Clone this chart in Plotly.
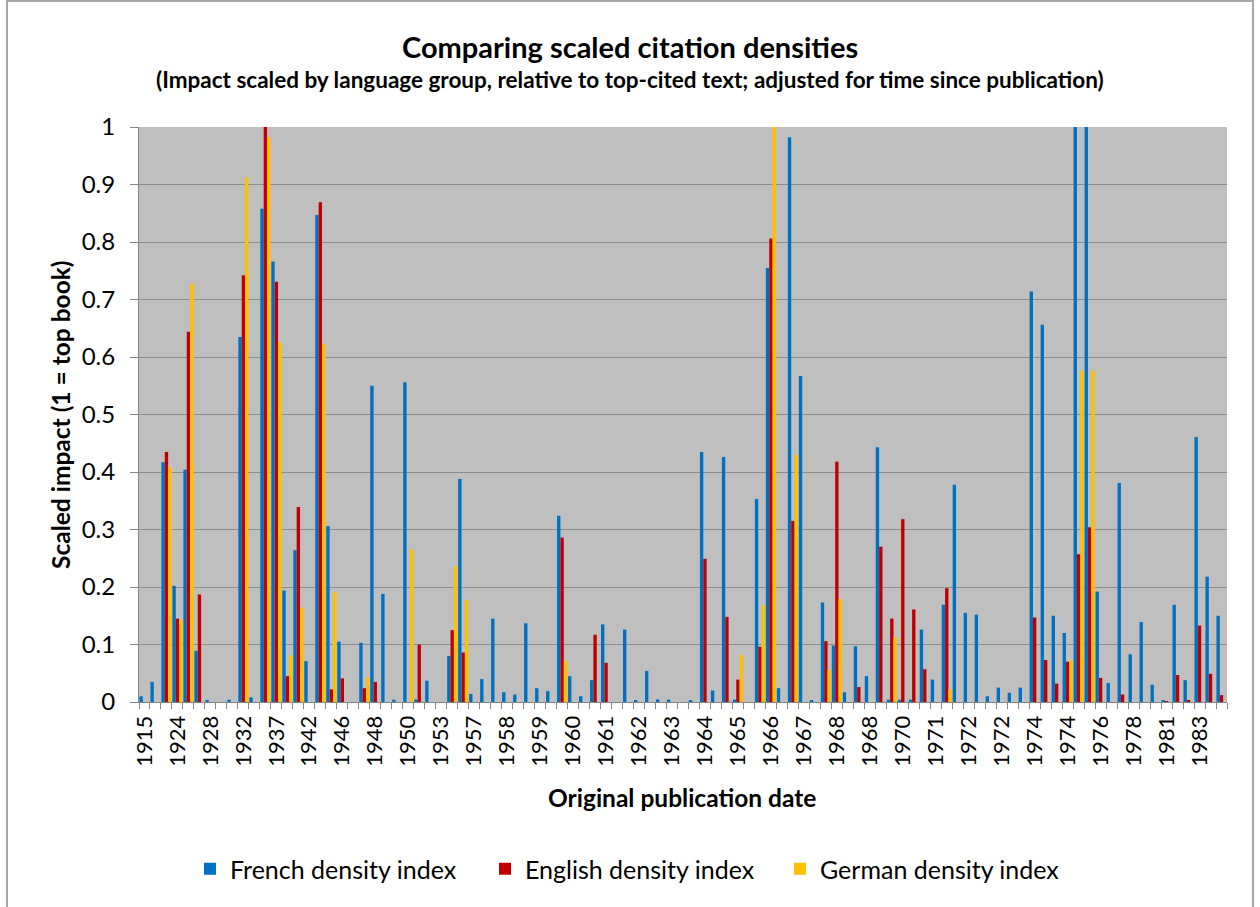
import plotly.graph_objects as go

# ---------------- data ----------------
years = [1915, 1920, 1922, 1924, 1925, 1927, 1928, 1929, 1931, 1932, 1934, 1936,
         1937, 1939, 1940, 1942, 1943, 1945, 1946, 1947, 1947, 1948, 1949, 1949,
         1950, 1951, 1952, 1953, 1955, 1956, 1957, 1957, 1958, 1958, 1958, 1959,
         1959, 1959, 1960, 1960, 1960, 1961, 1961, 1961, 1962, 1962, 1962, 1963,
         1963, 1963, 1964, 1964, 1964, 1965, 1965, 1965, 1966, 1966, 1966, 1967,
         1967, 1967, 1968, 1968, 1968, 1968, 1968, 1969, 1969, 1970, 1970, 1971,
         1971, 1971, 1972, 1972, 1972, 1972, 1972, 1973, 1973, 1974, 1974, 1974,
         1974, 1975, 1975, 1976, 1977, 1977, 1978, 1979, 1980, 1981, 1982, 1982,
         1983, 1984, 1985]

french = [0.010, 0.035, 0.417, 0.202, 0.404, 0.089, 0.002, 0.000, 0.004, 0.635,
          0.008, 0.858, 0.766, 0.194, 0.264, 0.071, 0.847, 0.306, 0.105, 0.000,
          0.103, 0.550, 0.188, 0.004, 0.556, 0.0045, 0.037, 0.000, 0.080, 0.388,
          0.014, 0.040, 0.145, 0.017, 0.013, 0.137, 0.024, 0.019, 0.324, 0.045,
          0.010, 0.038, 0.135, 0.000, 0.126, 0.002, 0.054, 0.0045, 0.004, 0.000,
          0.002, 0.435, 0.020, 0.426, 0.004, 0.000, 0.353, 0.755, 0.024, 0.982,
          0.567, 0.002, 0.173, 0.098, 0.017, 0.097, 0.045, 0.443, 0.004, 0.004,
          0.004, 0.126, 0.039, 0.169, 0.378, 0.155, 0.152, 0.010, 0.025, 0.016,
          0.025, 0.714, 0.656, 0.150, 0.120, 1.000, 1.000, 0.192, 0.033, 0.381,
          0.083, 0.139, 0.030, 0.002, 0.169, 0.038, 0.461, 0.218, 0.150]

english = [0.000, 0.000, 0.435, 0.145, 0.644, 0.187, 0.000, 0.000, 0.000, 0.742,
           0.000, 1.000, 0.731, 0.045, 0.339, 0.000, 0.869, 0.022, 0.041, 0.000,
           0.024, 0.035, 0.000, 0.000, 0.000, 0.100, 0.000, 0.000, 0.125, 0.086,
           0.000, 0.000, 0.000, 0.000, 0.000, 0.000, 0.000, 0.000, 0.286, 0.000,
           0.000, 0.117, 0.068, 0.000, 0.000, 0.000, 0.000, 0.000, 0.000, 0.000,
           0.000, 0.249, 0.000, 0.148, 0.039, 0.000, 0.096, 0.806, 0.000, 0.315,
           0.000, 0.000, 0.106, 0.418, 0.000, 0.026, 0.000, 0.270, 0.145, 0.318,
           0.161, 0.057, 0.000, 0.198, 0.000, 0.000, 0.000, 0.000, 0.000, 0.000,
           0.000, 0.147, 0.073, 0.032, 0.070, 0.257, 0.304, 0.042, 0.000, 0.013,
           0.000, 0.000, 0.000, 0.001, 0.047, 0.002, 0.133, 0.049, 0.012]

german = [0.000, 0.000, 0.408, 0.144, 0.728, 0.000, 0.000, 0.000, 0.000, 0.912,
          0.000, 0.982, 0.626, 0.081, 0.164, 0.000, 0.623, 0.191, 0.000, 0.000,
          0.042, 0.000, 0.000, 0.000, 0.265, 0.000, 0.000, 0.000, 0.236, 0.177,
          0.000, 0.000, 0.000, 0.000, 0.000, 0.000, 0.000, 0.000, 0.071, 0.000,
          0.000, 0.000, 0.000, 0.000, 0.000, 0.000, 0.000, 0.000, 0.000, 0.000,
          0.000, 0.000, 0.000, 0.000, 0.082, 0.000, 0.168, 1.000, 0.000, 0.430,
          0.000, 0.000, 0.056, 0.179, 0.000, 0.000, 0.000, 0.000, 0.113, 0.000,
          0.000, 0.000, 0.000, 0.022, 0.000, 0.000, 0.000, 0.000, 0.000, 0.000,
          0.000, 0.000, 0.000, 0.000, 0.073, 0.576, 0.576, 0.000, 0.000, 0.000,
          0.000, 0.000, 0.000, 0.000, 0.000, 0.000, 0.000, 0.000, 0.000]

series_names = ["French density index", "English density index", "German density index"]
series_colors = ["#0070C0", "#C00000", "#FFC000"]
label_step = 3

title_text = "Comparing scaled citation densities"
subtitle_text = "(Impact scaled by language group, relative to top-cited text; adjusted for time since publication)"
x_title = "Original publication date"
y_title = "Scaled impact (1 = top book)"

# ---------------- figure ----------------
FONT = "Lato"
positions = list(range(len(years)))
tick_vals = positions[::label_step]
tick_text = [str(y) for y in years[::label_step]]

fig = go.Figure()
for name, vals, col in zip(series_names, [french, english, german], series_colors):
    fig.add_trace(go.Bar(x=positions, y=vals, name=name, marker=dict(color=col, line=dict(width=0))))

W, H = 1260, 907
ml, mr, mt, mb = 139, 33, 127, 205
pw, ph = W - ml - mr, H - mt - mb

def px_to_paper_x(px):
    return (px - ml) / pw

def px_to_paper_y(py):
    return (H - mb - py) / ph

fig.update_layout(
    width=W, height=H,
    margin=dict(l=ml, r=mr, t=mt, b=mb, pad=0),
    paper_bgcolor="white",
    plot_bgcolor="#BFBFBF",
    barmode="group",
    bargap=0.08,
    bargroupgap=0,
    font=dict(family=FONT, color="#000000"),
    showlegend=True,
    legend=dict(
        orientation="h",
        x=px_to_paper_x(190), xanchor="left",
        y=px_to_paper_y(869), yanchor="middle",
        font=dict(size=25, family=FONT, color="#000000"),
        bgcolor="rgba(0,0,0,0)",
        traceorder="normal",
        entrywidth=250, entrywidthmode="pixels",
    ),
    xaxis=dict(
        range=[-0.5, len(years) - 0.5],
        tickmode="array",
        tickvals=tick_vals,
        ticktext=tick_text,
        tickangle=-90,
        ticks="",
        showgrid=False,
        zeroline=False,
        showline=True,
        linecolor="#868686",
        linewidth=1,
        tickfont=dict(size=22, family=FONT, color="#000000"),
        ticklabelstandoff=4,
        minor=dict(tick0=-0.5, dtick=1, ticks="outside", ticklen=6, tickcolor="#868686", tickwidth=1, showgrid=False),
    ),
    yaxis=dict(
        range=[0, 1],
        tick0=0, dtick=0.1,
        ticks="outside", ticklen=8, tickcolor="#868686", tickwidth=1,
        showgrid=True, gridcolor="#8C8C8C", gridwidth=1,
        zeroline=False,
        showline=True, linecolor="#868686", linewidth=1,
        tickfont=dict(size=24, family=FONT, color="#000000"),
        ticklabelstandoff=10,
    ),
)

fig.add_annotation(text="<b>" + title_text + "</b>", xref="paper", yref="paper",
                   x=px_to_paper_x(630), y=px_to_paper_y(46), xanchor="center", yanchor="middle",
                   showarrow=False, font=dict(size=29, family=FONT, color="#000000"))
fig.add_annotation(text="<b>" + subtitle_text + "</b>", xref="paper", yref="paper",
                   x=px_to_paper_x(630), y=px_to_paper_y(79), xanchor="center", yanchor="middle",
                   showarrow=False, font=dict(size=22.5, family=FONT, color="#000000"))
fig.add_annotation(text="<b>" + x_title + "</b>", xref="paper", yref="paper",
                   x=px_to_paper_x(682), y=px_to_paper_y(797), xanchor="center", yanchor="middle",
                   showarrow=False, font=dict(size=24.5, family=FONT, color="#000000"))
fig.add_annotation(text="<b>" + y_title + "</b>", xref="paper", yref="paper",
                   x=px_to_paper_x(60), y=px_to_paper_y(415), xanchor="center", yanchor="middle",
                   textangle=-90,
                   showarrow=False, font=dict(size=24.5, family=FONT, color="#000000"))

# outer chart border
fig.add_shape(type="rect", xref="paper", yref="paper",
              x0=px_to_paper_x(7), x1=px_to_paper_x(1253),
              y0=px_to_paper_y(930), y1=px_to_paper_y(1),
              line=dict(color="#A6A6A6", width=2), fillcolor="rgba(0,0,0,0)", layer="below")

fig.write_html("out.html", config={"displayModeBar": False},
               post_script="document.body.style.margin='0px';")
